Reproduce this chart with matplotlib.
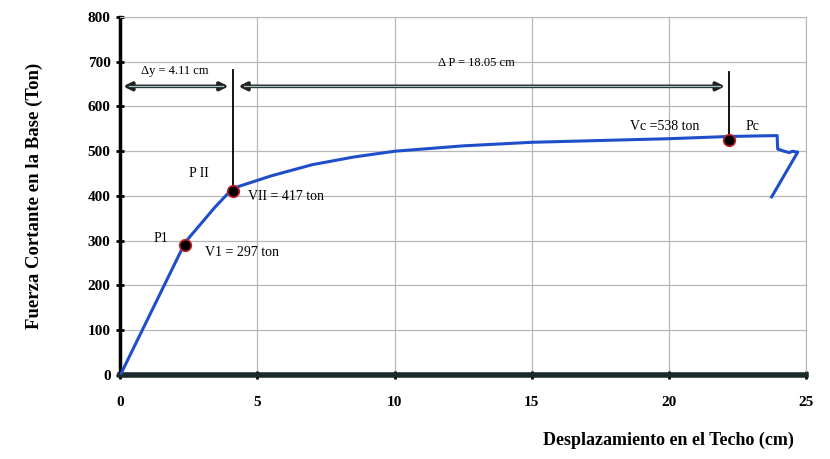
import matplotlib.pyplot as plt
import numpy as np

# capacity curve (displacement cm, shear ton)
disp = [0, 2.37, 3.45, 4.1, 5.5, 7.0, 8.5, 10.0, 12.5, 15.0, 17.5, 20.0, 22.2, 23.95,
        23.97, 24.2, 24.4, 24.5, 24.7, 23.75]
shear = [0, 297, 375, 417, 445, 470, 487, 500, 512, 520, 524, 528, 533, 535,
         505, 500, 497, 500, 498, 398]

pts_x = [2.37, 4.1, 22.2]
pts_y = [291, 412, 524]

x_ticks = [0, 5, 10, 15, 20, 25]
y_ticks = [0, 100, 200, 300, 400, 500, 600, 700, 800]

serif = 'Liberation Serif'

fig = plt.figure(figsize=(8.3, 4.59), dpi=100)
ax = fig.add_axes([0.145, 0.183, 0.826, 0.78])

ax.plot(disp, shear, color='#1f4fc8', lw=2.2, zorder=3)
ax.scatter(pts_x, pts_y, s=70, color='black', edgecolors='#c0202a', linewidths=1.2, zorder=4)

# vertical markers
ax.plot([4.1, 4.1], [417, 682], color='black', lw=1.3, zorder=3)
ax.plot([22.2, 22.2], [533, 676], color='black', lw=1.3, zorder=3)

# dimension arrows (double line look)
arr = dict(arrowstyle='<|-|>', color='#222222', lw=2.6, mutation_scale=12)
ax.annotate('', xy=(0, 645), xytext=(4.05, 645), arrowprops=arr)
ax.annotate('', xy=(4.2, 645), xytext=(22.15, 645), arrowprops=arr)
ax.plot([0.3, 3.75], [645, 645], color='#9ec4c4', lw=0.9, zorder=5)
ax.plot([4.5, 21.85], [645, 645], color='#9ec4c4', lw=0.9, zorder=5)

ax.text(2.0, 672, 'Δy = 4.11 cm', fontsize=9, family=serif, ha='center')
ax.text(13.0, 690, 'Δ P = 18.05 cm', fontsize=9, family=serif, ha='center')
ax.text(1.2, 298, 'P1', fontsize=10, family=serif)
ax.text(3.1, 265, 'V1 = 297 ton', fontsize=10, family=serif)
ax.text(2.5, 443, 'P II', fontsize=10, family=serif)
ax.text(4.65, 392, 'VII = 417 ton', fontsize=10, family=serif)
ax.text(18.6, 547, 'Vc =538 ton', fontsize=10, family=serif)
ax.text(22.8, 547, 'Pc', fontsize=10, family=serif)

ax.set_xlim(0, 25)
ax.set_ylim(0, 800)
ax.set_xticks(x_ticks)
ax.set_yticks(y_ticks)
ax.grid(True, color='#b8b8b8', lw=0.9)
ax.set_axisbelow(True)

for lab in ax.get_xticklabels() + ax.get_yticklabels():
    lab.set_family(serif)
    lab.set_fontweight('bold')
    lab.set_fontsize(11)

ax.spines['left'].set_linewidth(2.5)
ax.spines['bottom'].set_linewidth(4)
ax.spines['bottom'].set_color('#1a2a2a')
ax.spines['top'].set_color('#b8b8b8')
ax.spines['right'].set_color('#b8b8b8')
ax.tick_params(axis='both', direction='inout', length=6, width=2)
ax.tick_params(axis='x', pad=12)
ax.tick_params(axis='y', pad=4)

ax.set_ylabel('Fuerza Cortante en la Base (Ton)', family=serif, fontweight='bold', fontsize=13.5, labelpad=32)
fig.text(0.805, 0.03, 'Desplazamiento en el Techo (cm)', family=serif, fontweight='bold',
         fontsize=13, ha='center')

fig.savefig('out.png', dpi=100)
